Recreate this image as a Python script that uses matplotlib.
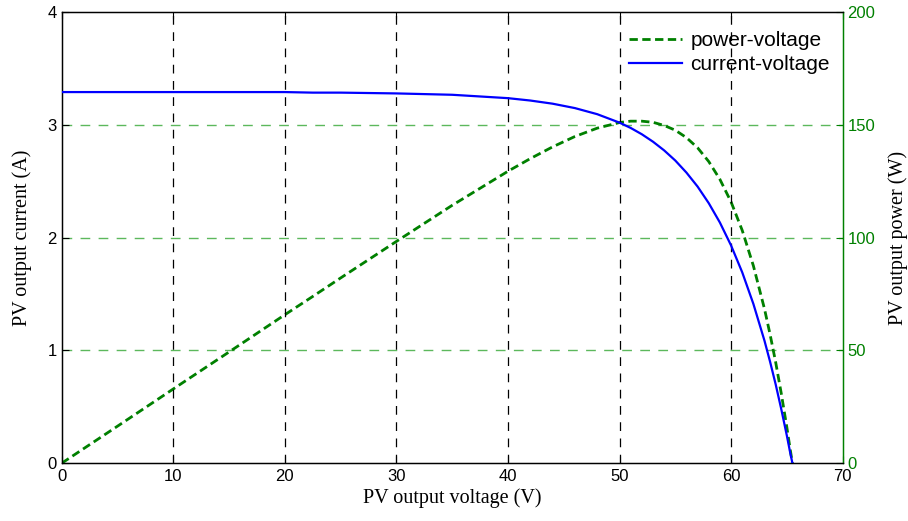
import matplotlib

matplotlib.use("Agg")
import matplotlib.pyplot as plt

# PV characteristic
voltage = [0, 5, 10, 15, 20, 22.5, 25, 30, 35, 40, 42, 44, 46, 48, 50, 51, 52, 53,
           54, 55, 56, 57, 58, 59, 60, 61, 62, 63, 63.5, 64, 64.5, 65, 65.3, 65.5]
current = [3.29, 3.29, 3.29, 3.29, 3.29, 3.285, 3.285, 3.278, 3.266, 3.236, 3.215,
           3.187, 3.148, 3.094, 3.019, 2.972, 2.916, 2.850, 2.773, 2.683, 2.576,
           2.452, 2.305, 2.133, 1.930, 1.692, 1.412, 1.084, 0.898, 0.698, 0.479,
           0.244, 0.093, 0.0]
power = [0, 16.4, 32.9, 49.3, 65.8, 73.9, 82.1, 98.3, 114.3, 129.4, 135.0, 140.2,
         144.8, 148.5, 151.0, 151.6, 151.6, 151.1, 149.7, 147.6, 144.3, 139.8, 133.7,
         125.8, 115.8, 103.2, 87.5, 68.3, 57.0, 44.7, 30.9, 15.9, 6.1, 0.0]

x_ticks = [0, 10, 20, 30, 40, 50, 60, 70]
i_ticks = [0, 1, 2, 3, 4]
p_ticks = [0, 50, 100, 150, 200]

GREEN = "#008000"
BLUE = "#0000ff"
tick_font = "Liberation Sans"
label_font = "Liberation Serif"

fig = plt.figure(figsize=(9.08, 5.21), dpi=100)
ax = fig.add_axes([0.068, 0.111, 0.860, 0.866])
ax2 = ax.twinx()
# current axis drawn on top of the power axis
ax.set_zorder(ax2.get_zorder() + 1)
ax.patch.set_visible(False)

ax.set_xlim(0, 70)
ax.set_ylim(0, 4)
ax2.set_ylim(0, 200)
ax.set_xticks(x_ticks)
ax.set_yticks(i_ticks)
ax2.set_yticks(p_ticks)

# vertical grid (black) from the current axis, horizontal grid (green) from the power axis
for v in x_ticks[1:-1]:
    ax.axvline(v, color="black", lw=0.9, ls=(0, (7, 6)), zorder=1)
for p in p_ticks[1:-1]:
    ax2.axhline(p, color="#5cb85c", lw=1.0, ls=(0, (7, 6)), zorder=1)

lp, = ax2.plot(voltage, power, color=GREEN, lw=2.0, ls=(0, (3, 1.6)), label="power-voltage", zorder=3)
li, = ax.plot(voltage, current, color=BLUE, lw=1.6, label="current-voltage", zorder=4)

ax.tick_params(direction="in", top=True, length=5, labelsize=12, width=0.8)
ax2.tick_params(direction="in", length=5, labelsize=12, colors=GREEN, width=0.8)
for t in ax.get_xticklabels() + ax.get_yticklabels() + ax2.get_yticklabels():
    t.set_fontfamily(tick_font)
ax.tick_params(axis="x", pad=4)

ax.set_xlabel("PV output voltage (V)", fontsize=14.5, fontfamily=label_font, labelpad=3)
ax.set_ylabel("PV output current (A)", fontsize=14.5, fontfamily=label_font, labelpad=11)
ax2.set_ylabel("PV output power (W)", fontsize=14.5, fontfamily=label_font, labelpad=9, color="black")

ax2.spines["right"].set_color(GREEN)
ax.spines["right"].set_color(GREEN)
for s in ax.spines.values():
    s.set_linewidth(1.0)

ax.legend(handles=[lp, li], loc="upper right", bbox_to_anchor=(1.0, 0.986), frameon=False,
          prop={"family": tick_font, "size": 15}, handlelength=2.55,
          handletextpad=0.4, borderaxespad=0.2, labelspacing=0.25)

fig.savefig("out.png", dpi=100)
